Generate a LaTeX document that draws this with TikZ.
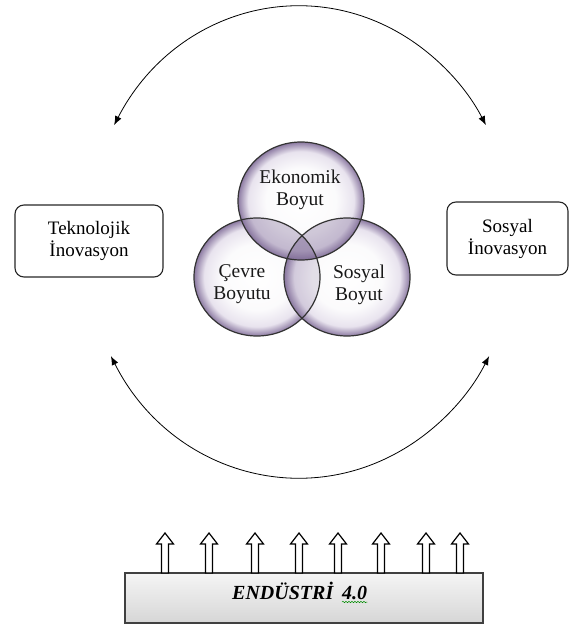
\documentclass[tikz,border=0pt]{standalone}
\usepackage{fontspec}
\setmainfont{Liberation Serif}
\usetikzlibrary{arrows.meta,decorations.pathmorphing}
\definecolor{lilac}{RGB}{126,106,150}
\definecolor{lilacmid}{RGB}{232,227,238}
\definecolor{lilacrim}{RGB}{140,122,162}
\pgfdeclareradialshading{bubble}{\pgfpoint{0bp}{0bp}}{color(0bp)=(white); color(14bp)=(white!97!lilac); color(21bp)=(lilacmid); color(25bp)=(lilacrim); color(50bp)=(lilacrim)}
\tikzstyle{block} = [rectangle, draw=black!85, line width=1.1pt, rounded corners=9pt,
                 align=center, inner sep=0pt, font=\fontsize{19}{22}\selectfont]
\tikzstyle{dimtext} = [align=center, inner sep=0pt, text=black!90, font=\fontsize{19.5}{22}\selectfont]
\tikzstyle{glass} = [shading=bubble]
\tikzstyle{lens} = [fill=lilac, fill opacity=0.35]
\tikzstyle{rim} = [draw=black!80, line width=1.2pt]
\tikzstyle{swing} = [draw, line width=0.8pt, {Latex[length=9pt,width=7pt]}-{Latex[length=9pt,width=7pt]}]
\tikzstyle{lift} = [draw, fill=white, line width=1.2pt, line join=miter]
\tikzstyle{base} = [rectangle, draw=black!75, line width=1.2pt, top color=gray!8,
                 bottom color=gray!32, minimum width=358pt, minimum height=50pt]
\tikzstyle{basetext} = [inner sep=0pt, anchor=base west, font=\fontsize{20}{24}\selectfont\bfseries\itshape]

\begin{document}
\begin{tikzpicture}[x=1pt,y=-1pt]
\useasboundingbox (0,0) rectangle (575,626);

% innovation boxes
\node [block, minimum width=148pt, minimum height=72pt] at (89,241) (tek) {Teknolojik\\İnovasyon};
\node [block, minimum width=121pt, minimum height=73pt] at (507.5,238.5) (sin) {Sosyal\\İnovasyon};

% sustainability bubbles
\coordinate (eko) at (301,201);
\coordinate (cev) at (257,277);
\coordinate (sos) at (347,277);
\foreach \bub in {cev,sos,eko}
	\shade [glass] (\bub) ellipse [x radius=63, y radius=59];
% overlaps
\begin{scope}
	\clip (eko) ellipse [x radius=63, y radius=59];
	\path [lens] (cev) ellipse [x radius=63, y radius=59];
	\path [lens] (sos) ellipse [x radius=63, y radius=59];
\end{scope}
\begin{scope}
	\clip (cev) ellipse [x radius=63, y radius=59];
	\path [lens, fill opacity=0.2] (sos) ellipse [x radius=63, y radius=59];
\end{scope}
\foreach \bub in {cev,sos,eko}
	\path [rim] (\bub) ellipse [x radius=63, y radius=59];

\node [dimtext] at (300,190) (ekot) {Ekonomik\\Boyut};
\node [dimtext] at (242,284) (cevt) {Çevre\\Boyutu};
\node [dimtext] at (359,285) (sost) {Sosyal\\Boyut};

% cycle arcs
\coordinate (hub) at (300,242);
\path (hub) ++(209.7:214 and 236) coordinate (topl);
\path (hub) ++(151.1:216 and 236) coordinate (botl);
\path [swing] (topl) arc [start angle=209.7, end angle=330.3, x radius=214, y radius=236];
\path [swing] (botl) arc [start angle=151.1, end angle=28.9, x radius=216, y radius=236];

% industry base
\node [base] at (304,598) (ind) {};
\node [basetext] at (232,599) (endt) {ENDÜSTRİ};
\node [basetext] at (342,599) (vers) {4.0};
\draw [green!55!black, line width=0.5pt, decorate, decoration={snake, amplitude=0.7pt, segment length=3pt}]
	([yshift=-3pt]vers.base west) -- ([yshift=-3pt]vers.base east);

% lifting arrows
\foreach \x in {165,209,255,299,338,381,426,460}
	\path [lift] (\x-3.5,573) -- (\x-3.5,544) -- (\x-8.5,544) -- (\x,533)
		-- (\x+8.5,544) -- (\x+3.5,544) -- (\x+3.5,573) -- cycle;

\end{tikzpicture}
\end{document}
